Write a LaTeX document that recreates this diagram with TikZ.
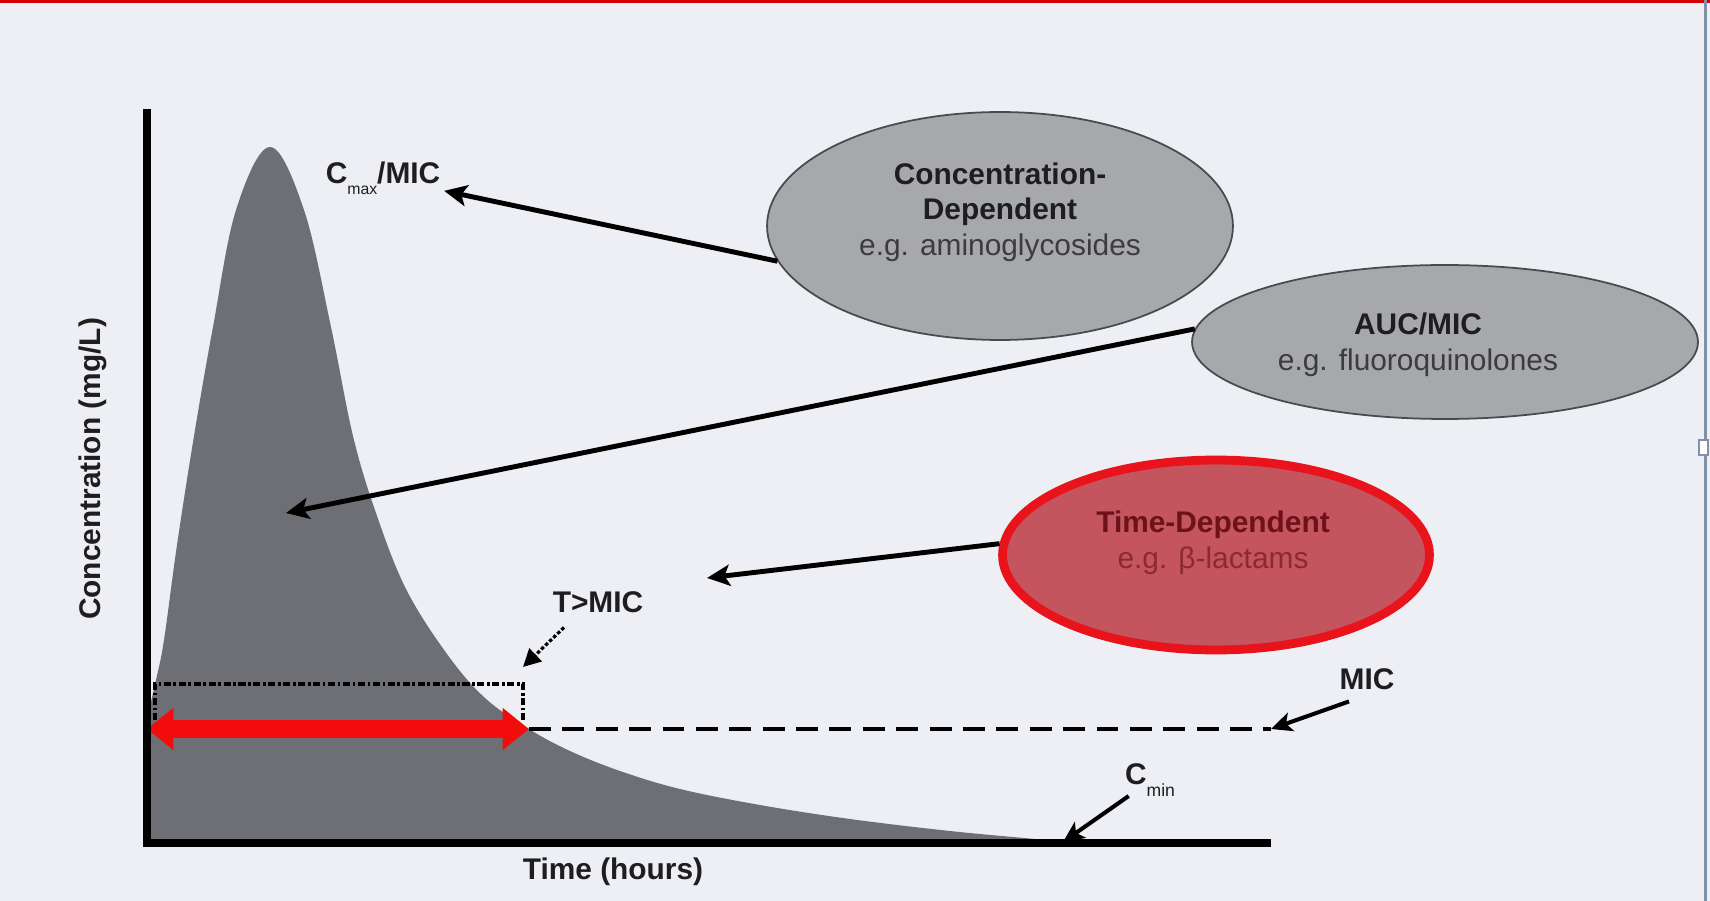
\documentclass[tikz,border=0pt]{standalone}
\usepackage{fontspec}
\setsansfont{Liberation Sans}
\usepackage{tikz}
\usetikzlibrary{arrows.meta,shapes.geometric}

\definecolor{bg}{HTML}{EDEFF4}
\definecolor{curvegray}{HTML}{6D6F74}
\definecolor{ovalfill}{HTML}{A6A8AC}
\definecolor{ovalrim}{HTML}{4A4A4A}
\definecolor{timefill}{HTML}{C4545D}
\definecolor{timerim}{HTML}{E8131B}
\definecolor{spanred}{HTML}{F20C0C}
\definecolor{darktxt}{HTML}{1E1E1E}
\definecolor{egtxt}{HTML}{3C3C3C}
\definecolor{timetxt}{HTML}{6E1219}
\definecolor{timeeg}{HTML}{8C2A32}
\definecolor{topred}{HTML}{D40000}
\definecolor{edgeblue}{HTML}{8090A8}

\begin{document}
\begin{tikzpicture}[
   x=0.02cm, y=-0.02cm,
   font=\sffamily,
   axis/.style={line width=4pt},
   lbl/.style={font=\sffamily\bfseries\fontsize{17}{20}\selectfont,text=darktxt,inner sep=2pt},
   oval/.style={ellipse,draw=ovalrim,fill=ovalfill,line width=1pt,inner sep=0pt},
   ovaltext/.style={align=center,font=\sffamily\fontsize{17}{20.3}\selectfont,text=egtxt},
   pk/.style={-{Stealth[length=13pt,width=12pt,inset=3pt]},line width=2.8pt},
   thinpk/.style={-{Stealth[length=12pt,width=11pt,inset=3pt]},line width=2.3pt},
   dotpk/.style={-{Triangle[length=10pt,width=10pt]},line width=1.8pt,dash pattern=on 2pt off 1.2pt},
   span/.style={line width=10pt,draw=spanred,{Triangle[length=15pt,width=23pt]}-{Triangle[length=15pt,width=23pt]}},
   micline/.style={line width=2.3pt,dash pattern=on 12.5pt off 6.5pt},
   bracket/.style={line width=2pt,dash pattern=on 4pt off 1.5pt on 1.5pt off 1.5pt}]

% frame
\path[use as bounding box,fill=bg] (0,0) rectangle (1710,901);
\fill[topred] (0,0) rectangle (1710,3);
\fill[edgeblue] (1704,0) rectangle (1707,901);
\draw[edgeblue,fill=white,line width=1pt] (1699,440) rectangle (1708,455);

% concentration curve
\fill[curvegray] (147,843) -- plot[smooth,tension=0.6] coordinates {
   (148,714) (156,680) (164,640) (177,545) (194,436) (213,327) (236,210)
   (270,147) (304,210) (331,327) (353,436) (376,513) (406,589) (447,654)
   (485,698) (529,729) (570,751) (620,771) (680,789) (760,805) (850,819)
   (950,831) (1035,839) (1065,842)} -- cycle;

% time above MIC
\coordinate (spanl) at (147,729);
\coordinate (spanr) at (529,729);
\coordinate (micend) at (1271,729);
\draw[bracket] (155,720) -- (155,684) -- (523,684) -- (523,720);
\draw[micline] (spanr) -- (micend);
\draw[span] (spanl) -- (spanr);

% axes
\draw[axis] (147,109) -- (147,843) -- (1271,843);

% ovals
\node[oval,minimum width=9.32cm,minimum height=4.56cm] (conc) at (1000,226) {};
\node[oval,minimum width=10.12cm,minimum height=3.08cm] (auc) at (1445,342) {};
\node[ellipse,draw=timerim,fill=timefill,line width=5pt,inner sep=0pt,
   minimum width=8.54cm,minimum height=3.8cm] (time) at (1216,555) {};
\node[ovaltext] (conctxt) at (1000,212)
   {\textcolor{darktxt}{\bfseries Concentration-}\\\textcolor{darktxt}{\bfseries Dependent}\\e.g. aminoglycosides};
\node[ovaltext] (auctxt) at (1418,345)
   {\textcolor{darktxt}{\bfseries AUC/MIC}\\e.g. fluoroquinolones};
\node[ovaltext,text=timetxt] (timetxt) at (1213,543)
   {\textbf{Time-Dependent}\\\textcolor{timeeg}{e.g. β-lactams}};

% labels
\node[lbl] (cmax) at (383,178) {C\raisebox{-0.7ex}{\fontsize{9}{9}\selectfont\mdseries max}/MIC};
\node[lbl] (tmic) at (598,602) {T>MIC};
\node[lbl] (mic) at (1367,679) {MIC};
\node[lbl] (cmin) at (1150,780) {C\raisebox{-0.8ex}{\fontsize{10}{10}\selectfont\mdseries min}};
\node[lbl] (timelbl) at (613,872) {Time (hours)};
\node[lbl,rotate=90] (conclbl) at (93,469) {Concentration (mg/L)};

% pointers
\coordinate (auctip) at (286,513);
\coordinate (timetip) at (707,578);
\coordinate (cminpt) at (1063,842);
\coordinate (tmictip) at (523,667);
\draw[pk] (conc.189) -- (cmax);
\draw[pk] (auc.177) -- (auctip);
\draw[pk] (time.177) -- (timetip);
\draw[thinpk] ([xshift=-0.36cm,yshift=-0.16cm]mic.south) -- (micend);
\draw[thinpk] ([xshift=0.15cm,yshift=-0.32cm]cmin.west) -- (cminpt);
\draw[dotpk] ([xshift=-0.68cm,yshift=-0.22cm]tmic.south) -- (tmictip);
\end{tikzpicture}
\end{document}
